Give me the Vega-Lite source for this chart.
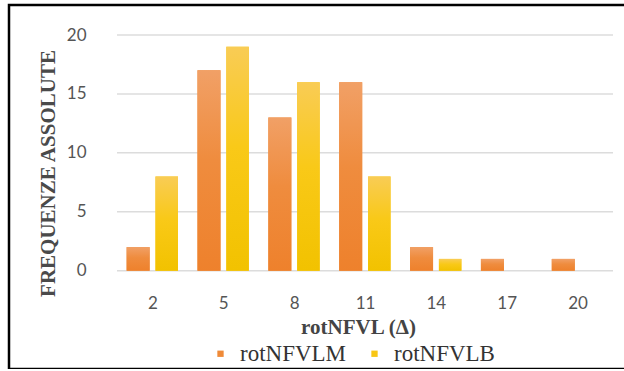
{
  "$schema": "https://vega.github.io/schema/vega-lite/v6.json",
  "autosize": "none",
  "width": 620,
  "height": 364,
  "padding": {"left": 9, "top": 5, "right": 0, "bottom": 0},
  "background": "white",
  "config": {"view": {"stroke": "#000000", "strokeWidth": 2.5}},
  "datasets": {
    "bars": [
      {"cat": 2, "series": "rotNFVLM", "value": 2},
      {"cat": 5, "series": "rotNFVLM", "value": 17},
      {"cat": 8, "series": "rotNFVLM", "value": 13},
      {"cat": 11, "series": "rotNFVLM", "value": 16},
      {"cat": 14, "series": "rotNFVLM", "value": 2},
      {"cat": 17, "series": "rotNFVLM", "value": 1},
      {"cat": 20, "series": "rotNFVLM", "value": 1},
      {"cat": 2, "series": "rotNFVLB", "value": 8},
      {"cat": 5, "series": "rotNFVLB", "value": 19},
      {"cat": 8, "series": "rotNFVLB", "value": 16},
      {"cat": 11, "series": "rotNFVLB", "value": 8},
      {"cat": 14, "series": "rotNFVLB", "value": 1},
      {"cat": 17, "series": "rotNFVLB", "value": 0},
      {"cat": 20, "series": "rotNFVLB", "value": 0}
    ],
    "grid": [{"v": 0}, {"v": 5}, {"v": 10}, {"v": 15}, {"v": 20}]
  },
  "layer": [
    {
      "data": {"name": "grid"},
      "mark": {"type": "rule", "color": "#DCDCDC", "strokeWidth": 1.5},
      "encoding": {
        "y": {
          "field": "v", "type": "quantitative", "title": "FREQUENZE ASSOLUTE",
          "scale": {"domain": [0, 20], "range": [265.7, 30], "nice": false},
          "axis": {
            "orient": "left", "offset": -79,
            "values": [0, 5, 10, 15, 20], "grid": false, "domain": false, "ticks": false,
            "labelPadding": 2, "labelFont": "Lato", "labelFontSize": 17, "labelColor": "#555555",
            "titleFont": "Liberation Serif", "titleFontWeight": "bold", "titleFontSize": 21, "titleColor": "#4a4a4a",
            "titleX": -40, "titleY": 168, "titleAngle": -90, "titleAlign": "center", "titleBaseline": "middle"
          }
        },
        "x": {
          "datum": 0.5, "type": "quantitative", "title": "rotNFVL (Δ)",
          "scale": {"domain": [0.5, 21.5], "range": [103, 609], "nice": false, "zero": false},
          "axis": {
            "orient": "bottom", "offset": -98.3,
            "values": [2, 5, 8, 11, 14, 17, 20], "grid": false, "domain": false, "ticks": false,
            "labelPadding": 25, "labelBaseline": "top", "labelFont": "Lato", "labelFontSize": 17, "labelColor": "#555555",
            "titleFont": "Liberation Serif", "titleFontWeight": "bold", "titleFontSize": 21, "titleColor": "#444444",
            "titleX": 349, "titleY": 57, "titleAlign": "center", "titleBaseline": "middle"
          }
        },
        "x2": {"datum": 21.5}
      }
    },
    {
      "data": {"name": "bars"},
      "transform": [{"filter": "datum.series === 'rotNFVLM'"}],
      "mark": {"type": "bar", "width": 23, "xOffset": -14.3},
      "encoding": {
        "x": {"field": "cat", "type": "quantitative", "title": "rotNFVL (Δ)"},
        "y": {"field": "value", "type": "quantitative", "title": "FREQUENZE ASSOLUTE"},
        "color": {
          "field": "series", "type": "nominal",
          "scale": {"domain": ["rotNFVLM", "rotNFVLB"], "range": ["#EF8A38", "#F8C614"]},
          "legend": {
            "title": null, "orient": "none", "legendX": 200, "legendY": 337, "direction": "horizontal",
            "symbolType": "square", "symbolSize": 40, "symbolStrokeWidth": 0,
            "labelFont": "Liberation Serif", "labelFontSize": 23, "labelColor": "#333333",
            "labelOffset": 8, "columnPadding": 16, "padding": 0
          }
        }
      }
    },
    {
      "data": {"name": "bars"},
      "transform": [{"filter": "datum.series === 'rotNFVLB'"}],
      "mark": {"type": "bar", "width": 22.5, "xOffset": 14.3},
      "encoding": {
        "x": {"field": "cat", "type": "quantitative", "title": "rotNFVL (Δ)"},
        "y": {"field": "value", "type": "quantitative", "title": "FREQUENZE ASSOLUTE"},
        "color": {"field": "series", "type": "nominal"}
      }
    },
    {
      "data": {"name": "bars"},
      "transform": [{"filter": "datum.series === 'rotNFVLM'"}],
      "mark": {
        "type": "bar", "width": 23, "xOffset": -14.3,
        "color": {"gradient": "linear", "x1": 0, "y1": 0, "x2": 0, "y2": 1, "stops": [{"offset": 0, "color": "#F1A066"}, {"offset": 0.45, "color": "#EF8C3E"}, {"offset": 1, "color": "#EE812C"}]}
      },
      "encoding": {
        "x": {"field": "cat", "type": "quantitative", "title": "rotNFVL (Δ)"},
        "y": {"field": "value", "type": "quantitative", "title": "FREQUENZE ASSOLUTE"}
      }
    },
    {
      "data": {"name": "bars"},
      "transform": [{"filter": "datum.series === 'rotNFVLB'"}],
      "mark": {
        "type": "bar", "width": 22.5, "xOffset": 14.3,
        "color": {"gradient": "linear", "x1": 0, "y1": 0, "x2": 0, "y2": 1, "stops": [{"offset": 0, "color": "#F9CC55"}, {"offset": 0.45, "color": "#F9C918"}, {"offset": 1, "color": "#F2C200"}]}
      },
      "encoding": {
        "x": {"field": "cat", "type": "quantitative", "title": "rotNFVL (Δ)"},
        "y": {"field": "value", "type": "quantitative", "title": "FREQUENZE ASSOLUTE"}
      }
    }
  ]
}
